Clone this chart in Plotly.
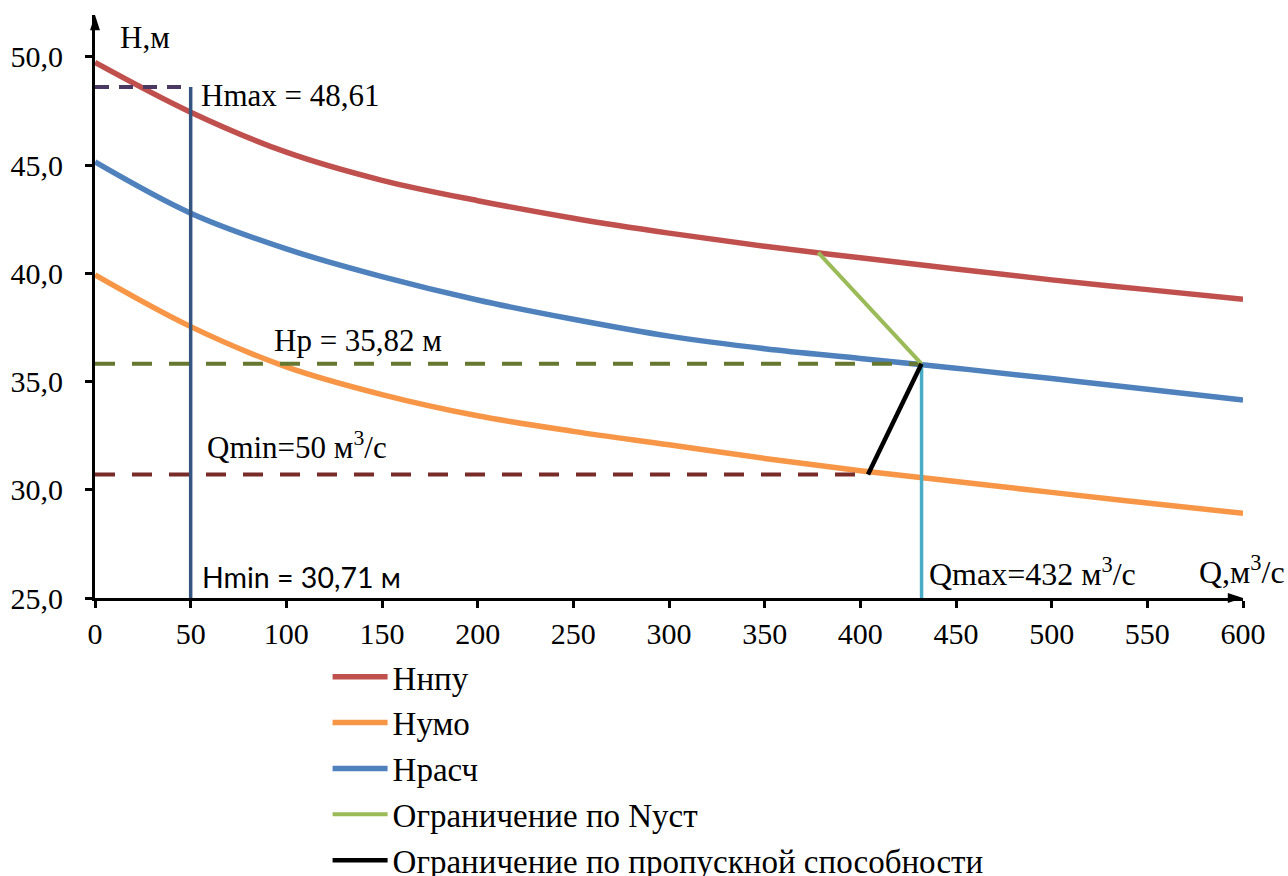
import plotly.graph_objects as go

# Discharge grid, m3/s
Q = [0, 50, 100, 150, 200, 250, 300, 350, 400, 450, 500, 550, 600]

# Head curves, m
H_NPU = [49.75, 47.45, 45.6, 44.3, 43.36, 42.55, 41.86, 41.25, 40.72, 40.2, 39.7, 39.25, 38.8]
H_UMO = [39.93, 37.54, 35.68, 34.4, 33.42, 32.7, 32.08, 31.45, 30.88, 30.38, 29.88, 29.39, 28.91]
H_RASCH = [45.15, 42.78, 41.13, 39.85, 38.77, 37.88, 37.1, 36.52, 36.07, 35.62, 35.14, 34.65, 34.15]

# Operating-zone limits
Q_NUST = [378, 432]
H_NUST = [40.96, 35.82]
Q_PROP = [404, 432]
H_PROP = [30.71, 35.82]

Q_MIN = 50
Q_MAX = 432
H_MAX = 48.61
H_P = 35.82
H_MIN = 30.71
Q_HMIN_END = 404

Y_MIN, Y_TOP = 25, 51.94
X_MAX = 600
Y_TICKS = [25, 30, 35, 40, 45, 50]
X_TICKS = list(range(0, 601, 50))

SERIF = "Liberation Serif, Times New Roman, serif"
SANS = "Lato, Liberation Sans, sans-serif"

fig = go.Figure()

# Main curves
fig.add_trace(go.Scatter(x=Q, y=H_NPU, mode="lines", name="Ннпу",
                         line=dict(color="#C0504D", width=5.5, shape="spline")))
fig.add_trace(go.Scatter(x=Q, y=H_UMO, mode="lines", name="Нумо",
                         line=dict(color="#F79646", width=5.5, shape="spline")))
fig.add_trace(go.Scatter(x=Q, y=H_RASCH, mode="lines", name="Нрасч",
                         line=dict(color="#4F81BD", width=5.5, shape="spline")))

# Reference lines
fig.add_trace(go.Scatter(x=[Q_MAX, Q_MAX], y=[Y_MIN, H_P], mode="lines", showlegend=False,
                         line=dict(color="#4BACC6", width=3.5)))
fig.add_trace(go.Scatter(x=[Q_MIN, Q_MIN], y=[Y_MIN, H_MAX], mode="lines", showlegend=False,
                         line=dict(color="#34557F", width=3.5)))
fig.add_trace(go.Scatter(x=[0, Q_MIN], y=[H_MAX, H_MAX], mode="lines", showlegend=False,
                         line=dict(color="#4A3A63", width=4, dash="14px,10px")))
fig.add_trace(go.Scatter(x=[0, Q_MAX], y=[H_P, H_P], mode="lines", showlegend=False,
                         line=dict(color="#66782F", width=4, dash="20px,17px")))
fig.add_trace(go.Scatter(x=[0, Q_HMIN_END], y=[H_MIN, H_MIN], mode="lines", showlegend=False,
                         line=dict(color="#772C2A", width=4, dash="20px,17px")))

# Limit lines
fig.add_trace(go.Scatter(x=Q_NUST, y=H_NUST, mode="lines", name="Ограничение по Nуст",
                         line=dict(color="#9BBB59", width=4)))
fig.add_trace(go.Scatter(x=Q_PROP, y=H_PROP, mode="lines",
                         name="Ограничение по пропускной способности",
                         line=dict(color="#000000", width=4.5)))

# Axis arrowheads
fig.add_trace(go.Scatter(x=[0, X_MAX], y=[Y_TOP, Y_MIN], mode="markers", showlegend=False,
                         cliponaxis=False, hoverinfo="skip",
                         marker=dict(symbol="arrow", size=16, angle=[0, 90], color="black",
                                     line=dict(width=0))))

annotations = [
    dict(x=12, y=50.88, text="Н,м", xanchor="left", yanchor="middle",
         font=dict(family=SERIF, size=31)),
    dict(x=576, y=26.29, text="Q,м<sup>3</sup>/с", xanchor="left", yanchor="middle",
         font=dict(family=SERIF, size=32)),
    dict(x=54.5, y=48.2, text="Hmax = 48,61", xanchor="left", yanchor="middle",
         font=dict(family=SERIF, size=31)),
    dict(x=92.5, y=36.9, text="Hр = 35,82 м", xanchor="left", yanchor="middle",
         font=dict(family=SERIF, size=31)),
    dict(x=57.5, y=32.05, text="Qmin=50 м<sup>3</sup>/с", xanchor="left", yanchor="middle",
         font=dict(family=SERIF, size=31)),
    dict(x=55, y=25.95, text="Hmin = 30,71 м", xanchor="left", yanchor="middle",
         font=dict(family=SANS, size=28.5)),
    dict(x=435, y=26.2, text="Qmax=432 м<sup>3</sup>/с", xanchor="left", yanchor="middle",
         font=dict(family=SERIF, size=32)),
]
for a in annotations:
    a["showarrow"] = False
    a["xref"] = "x"
    a["yref"] = "y"

fig.update_layout(
    width=1288, height=876,
    margin=dict(l=95, r=45, t=15, b=278, autoexpand=False),
    paper_bgcolor="white", plot_bgcolor="white",
    separators=", ",
    font=dict(family=SERIF, size=30, color="black"),
    annotations=annotations,
    showlegend=True,
    legend=dict(x=0.2026, xanchor="left", y=-0.087, yanchor="top",
                traceorder="normal",
                font=dict(family=SERIF, size=33, color="black"),
                bgcolor="rgba(0,0,0,0)", itemwidth=55),
)
fig.update_xaxes(range=[0, X_MAX], tickvals=X_TICKS, ticktext=[str(v) for v in X_TICKS],
                 showgrid=False, zeroline=False, showline=True, linecolor="black", linewidth=3,
                 ticks="outside", ticklen=7, tickwidth=3, tickcolor="black",
                 ticklabelstandoff=0, tickfont=dict(family=SERIF, size=30))
fig.update_yaxes(range=[Y_MIN, Y_TOP], tickvals=Y_TICKS, tickformat=".1f",
                 showgrid=False, zeroline=False, showline=True, linecolor="black", linewidth=3,
                 ticks="outside", ticklen=7, tickwidth=3, tickcolor="black",
                 ticklabelstandoff=16, tickfont=dict(family=SERIF, size=30))

fig.write_html("out.html")
